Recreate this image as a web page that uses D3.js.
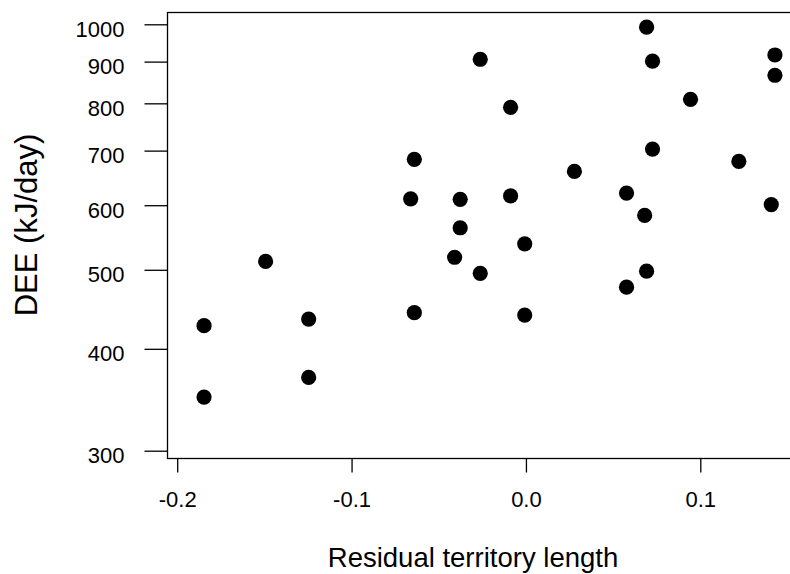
<!DOCTYPE html>
<html>

<head>
    <title>DEE vs residual territory length</title>
    <script src="https://d3js.org/d3.v7.min.js" charset="utf-8"></script>
    <style>
        body { margin: 0; background: #fff; }
        svg { display: block; }
    </style>
</head>

<body>
    <script>
        // residual territory length (x) and daily energy expenditure in kJ/day (y)
        var residual = [-0.1846, -0.1846, -0.1493, -0.1246, -0.1246, -0.0661, -0.0640, -0.0640,
            -0.0409, -0.0377, -0.0377, -0.0262, -0.0262, -0.0088, -0.0088, -0.0007, -0.0007,
            0.0278, 0.0577, 0.0577, 0.0681, 0.0692, 0.0692, 0.0726, 0.0726, 0.0944, 0.1221,
            0.1407, 0.1428, 0.1428];
        var dee = [427, 349, 512, 435, 369, 611, 683, 443,
            518, 610, 563, 906, 495, 791, 616, 538, 440,
            660, 621, 476, 583, 992, 498, 901, 703, 809, 679,
            601, 917, 866];
        var xTicks = [-0.2, -0.1, 0.0, 0.1];
        var xTickLabels = ["-0.2", "-0.1", "0.0", "0.1"];
        var yTicks = [300, 400, 500, 600, 700, 800, 900, 1000];

        var w = 790;
        var h = 574;
        var box = { left: 167.5, top: 12.5, right: 793, bottom: 458.5 };
        var font = "'Liberation Sans', Arial, Helvetica, sans-serif";

        var svg = d3.select("body").append("svg").attr("width", w).attr("height", h);

        var x = d3.scaleLinear().domain([-0.2, 0.1]).range([177.2, 700.3]);
        var y = d3.scaleLog().domain([300, 1000]).range([450.7, 24.3]);

        // plot frame
        svg.append("rect")
            .attr("x", box.left).attr("y", box.top)
            .attr("width", box.right - box.left).attr("height", box.bottom - box.top)
            .attr("fill", "none").attr("stroke", "#000").attr("stroke-width", 1.3);

        var xAxis = svg.append("g")
            .attr("transform", "translate(0," + box.bottom + ")")
            .call(d3.axisBottom(x).tickValues(xTicks)
                .tickFormat(function (d, i) { return xTickLabels[i]; })
                .tickSize(14).tickPadding(19));

        var yAxis = svg.append("g")
            .attr("transform", "translate(" + box.left + ",0)")
            .call(d3.axisLeft(y).tickValues(yTicks)
                .tickFormat(d3.format("d"))
                .tickSize(23).tickPadding(20));

        [xAxis, yAxis].forEach(function (g) {
            g.select(".domain").remove();
            g.selectAll(".tick line").attr("stroke", "#000").attr("stroke-width", 1.3);
            g.selectAll(".tick text")
                .attr("fill", "#000")
                .attr("font-family", font)
                .attr("font-size", 22);
        });
        yAxis.selectAll(".tick text").attr("dy", "0.55em");

        svg.selectAll("circle")
            .data(residual)
            .enter()
            .append("circle")
            .attr("cx", function (d) { return x(d); })
            .attr("cy", function (d, i) { return y(dee[i]); })
            .attr("r", 7.6)
            .attr("fill", "#000");

        svg.append("text")
            .text("Residual territory length")
            .attr("x", 473)
            .attr("y", 566.7)
            .attr("text-anchor", "middle")
            .attr("font-family", font)
            .attr("font-size", 27.5);

        svg.append("text")
            .text("DEE (kJ/day)")
            .attr("transform", "translate(36.7,225) rotate(-90)")
            .attr("text-anchor", "middle")
            .attr("font-family", font)
            .attr("font-size", 31);
    </script>
</body>

</html>
